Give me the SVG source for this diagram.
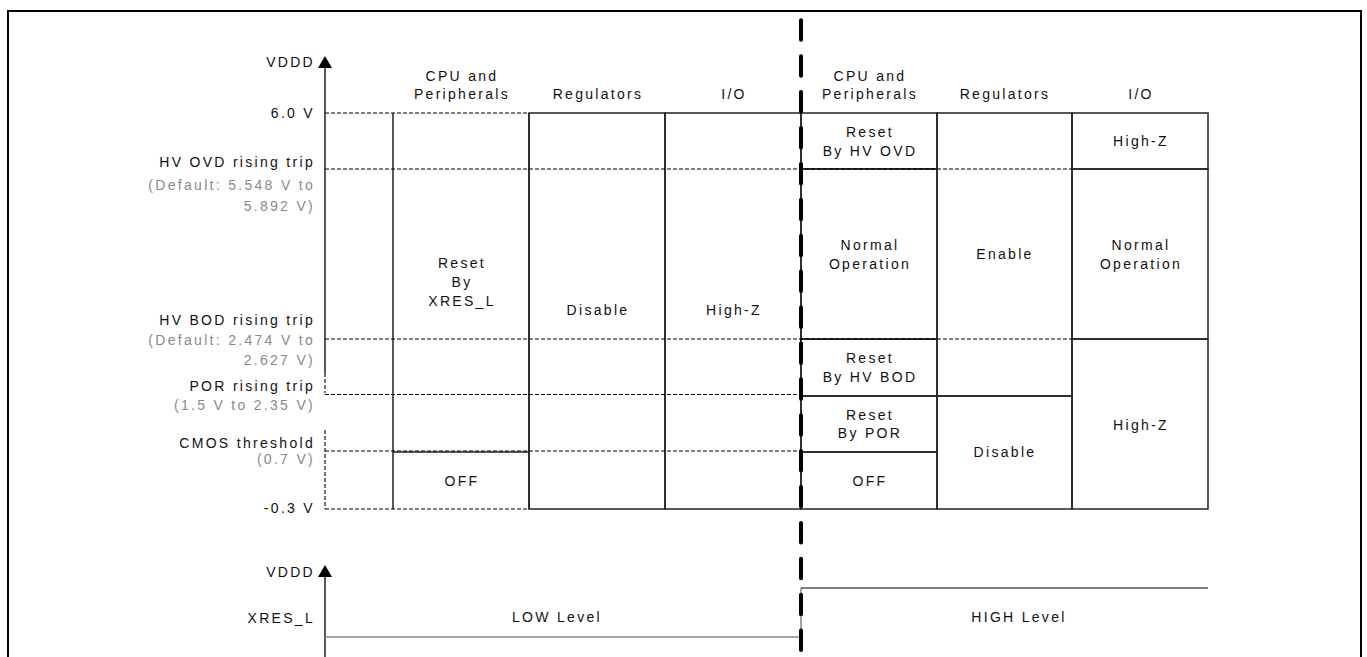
<svg xmlns="http://www.w3.org/2000/svg" width="1367" height="657" viewBox="0 0 1367 657">
<style>
text{font-family:"Liberation Sans",Arial,sans-serif;font-size:14px;letter-spacing:2.3px;fill:#111}
.g{fill:#8a8a8a}
.e{text-anchor:end}
.m{text-anchor:middle}
.box{fill:none;stroke:#222;stroke-width:1.5}
.ln{stroke:#222;stroke-width:1.5;fill:none}
.dash{stroke:#000;stroke-width:1.1;stroke-dasharray:4 2;fill:none}
.ax{stroke:#111;stroke-width:1.4;fill:none}
</style>
<rect width="1367" height="657" fill="#fff"/>
<g id="frame">
<path d="M8,657 V11 H1361 V657" fill="none" stroke="#000" stroke-width="2"/>
</g>
<g id="axis-top">
<line class="ax" x1="325" y1="67" x2="325" y2="373"/>
<line class="dash" x1="325" y1="373" x2="325" y2="393"/>
<line class="dash" x1="325" y1="430" x2="325" y2="509"/>
<polygon points="325,56 332,68 318,68" fill="#000"/>
<text class="e" x="315" y="67">VDDD</text>
</g>
<g id="labels">
<text class="e" x="315" y="118">6.0 V</text>
<text class="e" x="315" y="167">HV OVD rising trip</text>
<text class="e g" x="315" y="189.5">(Default: 5.548 V to</text>
<text class="e g" x="315" y="211">5.892 V)</text>
<text class="e" x="315" y="325">HV BOD rising trip</text>
<text class="e g" x="315" y="344.5">(Default: 2.474 V to</text>
<text class="e g" x="315" y="365">2.627 V)</text>
<text class="e" x="315" y="390.5">POR rising trip</text>
<text class="e g" x="315" y="409.5">(1.5 V to 2.35 V)</text>
<text class="e" x="315" y="448">CMOS threshold</text>
<text class="e g" x="315" y="463.5">(0.7 V)</text>
<text class="e" x="315" y="513">-0.3 V</text>
</g>
<g id="headers">
<text class="m" x="462" y="81">CPU and</text>
<text class="m" x="462" y="99">Peripherals</text>
<text class="m" x="598" y="99">Regulators</text>
<text class="m" x="734" y="99">I/O</text>
<text class="m" x="870" y="81">CPU and</text>
<text class="m" x="870" y="99">Peripherals</text>
<text class="m" x="1005" y="99">Regulators</text>
<text class="m" x="1141" y="99">I/O</text>
</g>
<g id="left-cpu">
<path class="ln" d="M393,113 V452 M529,113 V452"/>
<line class="ln" x1="393" y1="452" x2="529" y2="452"/>
<text class="m" x="462" y="268">Reset</text>
<text class="m" x="462" y="287">By</text>
<text class="m" x="462" y="306">XRES_L</text>
</g>
<g id="left-off">
<path class="ln" d="M393,452 V509 M529,452 V509"/>
<text class="m" x="462" y="486">OFF</text>
</g>
<g id="left-reg">
<rect class="box" x="529" y="113" width="136" height="396"/>
<text class="m" x="598" y="315">Disable</text>
</g>
<g id="left-io">
<rect class="box" x="665" y="113" width="136" height="396"/>
<text class="m" x="734" y="315">High-Z</text>
</g>
<g id="right-cpu-ovd">
<rect class="box" x="801" y="113" width="136" height="56"/>
<text class="m" x="870" y="137">Reset</text>
<text class="m" x="870" y="156">By HV OVD</text>
</g>
<g id="right-cpu-normal">
<rect class="box" x="801" y="169" width="136" height="170"/>
<text class="m" x="870" y="250">Normal</text>
<text class="m" x="870" y="269">Operation</text>
</g>
<g id="right-cpu-bod">
<rect class="box" x="801" y="339" width="136" height="57"/>
<text class="m" x="870" y="363">Reset</text>
<text class="m" x="870" y="382">By HV BOD</text>
</g>
<g id="right-cpu-por">
<rect class="box" x="801" y="396" width="136" height="56"/>
<text class="m" x="870" y="420">Reset</text>
<text class="m" x="870" y="438">By POR</text>
</g>
<g id="right-cpu-off">
<rect class="box" x="801" y="452" width="136" height="57"/>
<text class="m" x="870" y="486">OFF</text>
</g>
<g id="right-reg-enable">
<rect class="box" x="937" y="113" width="135" height="283"/>
<text class="m" x="1005" y="259">Enable</text>
</g>
<g id="right-reg-disable">
<rect class="box" x="937" y="396" width="135" height="113"/>
<text class="m" x="1005" y="457">Disable</text>
</g>
<g id="right-io-hz1">
<rect class="box" x="1072" y="113" width="136" height="56"/>
<text class="m" x="1141" y="146">High-Z</text>
</g>
<g id="right-io-normal">
<rect class="box" x="1072" y="169" width="136" height="170"/>
<text class="m" x="1141" y="250">Normal</text>
<text class="m" x="1141" y="269">Operation</text>
</g>
<g id="right-io-hz2">
<rect class="box" x="1072" y="339" width="136" height="170"/>
<text class="m" x="1141" y="430">High-Z</text>
</g>
<g id="levels">
<line class="dash" x1="325" y1="113" x2="529" y2="113"/>
<line class="dash" x1="325" y1="169" x2="1072" y2="169"/>
<line class="dash" x1="325" y1="339" x2="1072" y2="339"/>
<line class="dash" x1="325" y1="394.5" x2="801" y2="394.5"/>
<line class="dash" x1="325" y1="451" x2="801" y2="451"/>
<line class="dash" x1="325" y1="509" x2="529" y2="509"/>
</g>
<g id="axis-bottom">
<line class="ax" x1="325" y1="576" x2="325" y2="657"/>
<polygon points="325,565 332,577 318,577" fill="#000"/>
<text class="e" x="315" y="577">VDDD</text>
<text class="e" x="315" y="623">XRES_L</text>
</g>
<g id="connectors">
<path d="M325,637 H801 V588" fill="none" stroke="#888" stroke-width="1.5"/>
<path d="M801,588 H1208" fill="none" stroke="#000" stroke-width="1.1"/>
<text class="m" x="557" y="622">LOW Level</text>
<text class="m" x="1019" y="622">HIGH Level</text>
<line x1="801" y1="20.3" x2="801" y2="657" stroke="#000" stroke-width="4" stroke-linecap="round" stroke-dasharray="19.5 16.4"/>
</g>
</svg>
